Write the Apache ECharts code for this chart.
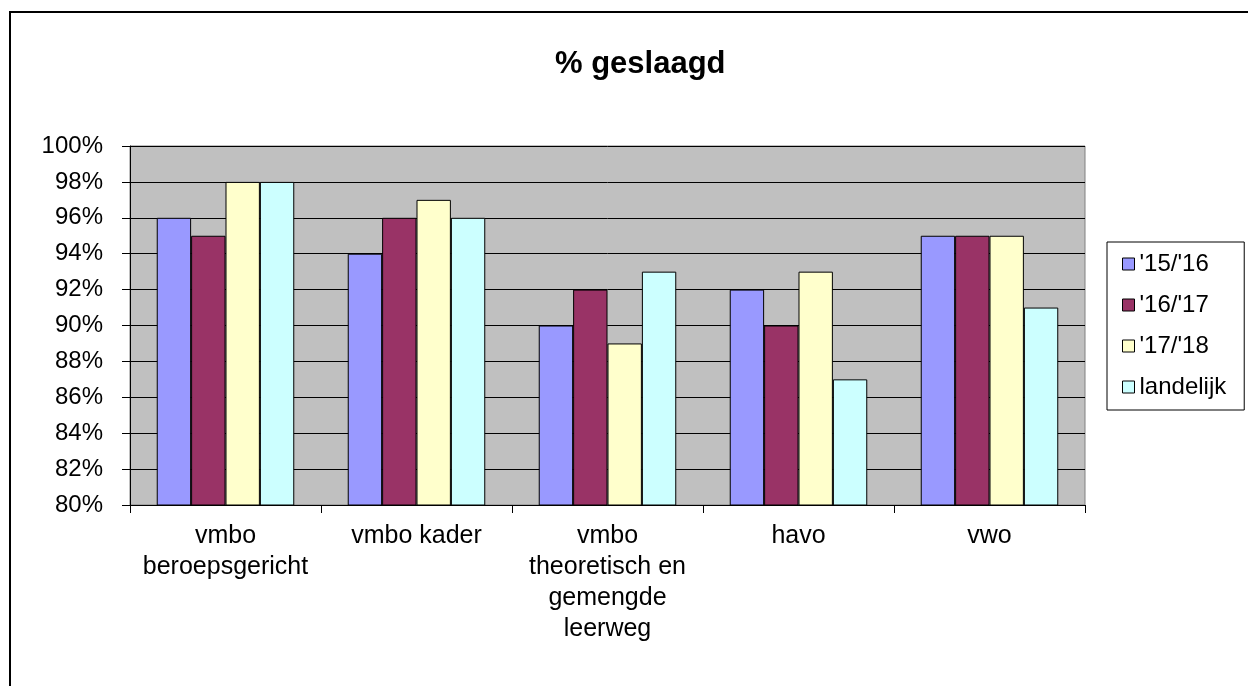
<!DOCTYPE html>
<html>
<head>
<meta charset="utf-8">
<script src="https://cdn.jsdelivr.net/npm/echarts@6/dist/echarts.min.js"></script>
<style>
  html, body { margin: 0; padding: 0; background: #fff; }
  #chart { width: 1248px; height: 686px; }
</style>
</head>
<body>
<div id="chart"></div>
<script>
  // categories and series values (percent passed)
  const categories = ['vmbo\nberoepsgericht', 'vmbo kader', 'vmbo\ntheoretisch en\ngemengde\nleerweg', 'havo', 'vwo'];
  const seriesNames = ["'15/'16", "'16/'17", "'17/'18", 'landelijk'];
  const y1516 = [96, 94, 90, 92, 95];
  const y1617 = [95, 96, 92, 90, 95];
  const y1718 = [98, 97, 89, 93, 95];
  const landelijk = [98, 96, 93, 87, 91];
  const colors = ['#9999FF', '#993366', '#FFFFCC', '#CCFFFF'];

  const font = 'Liberation Sans, Arial, sans-serif';
  const chart = echarts.init(document.getElementById('chart'));

  chart.setOption({
    animation: false,
    backgroundColor: '#fff',
    textStyle: { fontFamily: font },
    title: {
      text: '% geslaagd',
      left: 550,
      top: 44,
      textStyle: { fontSize: 31, fontWeight: 'bold', color: '#000', fontFamily: font }
    },
    graphic: [{
      type: 'rect',
      shape: { x: 10, y: 12, width: 1300, height: 800 },
      style: { fill: 'none', stroke: '#000', lineWidth: 2 },
      silent: true
    }],
    legend: {
      orient: 'vertical',
      left: 1107,
      top: 242,
      padding: [10, 18, 11, 15],
      itemGap: 17,
      itemWidth: 12,
      itemHeight: 12,
      borderColor: '#000',
      borderWidth: 1,
      icon: 'rect',
      itemStyle: { borderColor: '#000', borderWidth: 1 },
      textStyle: { fontSize: 24, lineHeight: 24, color: '#000', padding: [0, 0, 0, 0], fontFamily: font },
      data: seriesNames
    },
    grid: {
      left: 130,
      right: 163,
      top: 146,
      bottom: 181,
      show: true,
      backgroundColor: '#C0C0C0',
      borderColor: '#808080',
      borderWidth: 1
    },
    xAxis: {
      type: 'category',
      data: categories,
      axisLine: { lineStyle: { color: '#000', width: 1 } },
      axisTick: { show: true, length: 8, lineStyle: { color: '#000' } },
      axisLabel: { fontSize: 25, color: '#000', margin: 16, lineHeight: 31, interval: 0, fontFamily: font }
    },
    yAxis: {
      type: 'value',
      min: 80,
      max: 100,
      interval: 2,
      axisLine: { show: true, lineStyle: { color: '#000', width: 1 } },
      axisTick: { show: true, length: 8, lineStyle: { color: '#000' } },
      splitLine: { show: true, lineStyle: { color: '#000', width: 1 } },
      axisLabel: { formatter: '{value}%', fontSize: 24, color: '#000', margin: 27, fontFamily: font }
    },
    series: [y1516, y1617, y1718, landelijk].map((d, i) => ({
      name: seriesNames[i],
      type: 'bar',
      data: d,
      barGap: '0%',
      barCategoryGap: '28%',
      itemStyle: { color: colors[i], borderColor: '#000', borderWidth: 1 }
    }))
  });
</script>
</body>
</html>
